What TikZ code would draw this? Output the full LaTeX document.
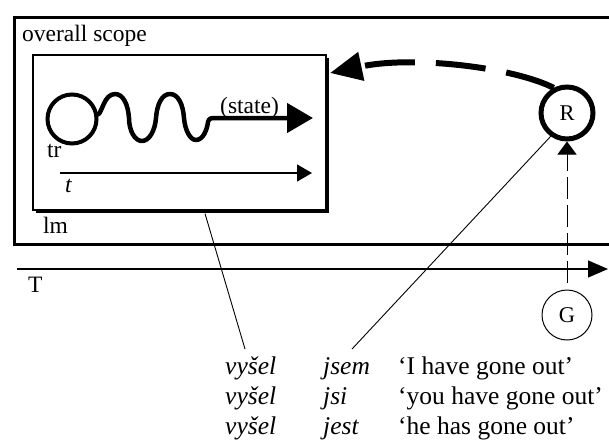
\documentclass[tikz,border=0pt]{standalone}
\usepackage{fontspec}
\setmainfont{Liberation Serif}
\usetikzlibrary{arrows.meta,shadows,calc}
\begin{document}
\begin{tikzpicture}[x=1pt,y=-1pt,
  lbl/.style={anchor=base west, inner sep=0pt, font=\fontsize{23.5}{28}\selectfont},
  ex/.style={anchor=base west, inner sep=0pt, font=\fontsize{25.5}{30}\selectfont},
  exit/.style={anchor=base west, inner sep=0pt, font=\fontsize{25.5}{30}\selectfont\itshape},
  thinline/.style={line width=0.9pt},
  bigcirc/.style={circle, draw, inner sep=0pt, font=\fontsize{22.5}{26}\selectfont},
  wave/.style={line width=4.5pt, line join=round, line cap=round},
]
\useasboundingbox (0,0) rectangle (609,441);
\fill[white] (0,0) rectangle (609,441);

% overall scope box
\node[draw, line width=3pt, minimum width=607pt, minimum height=227pt, inner sep=0pt,
      anchor=north west] (scope) at (13,16) {};
\node[lbl] (scopelbl) at (22,42) {overall scope};

% lm box
\node[draw, line width=1.2pt, fill=white, minimum width=293pt, minimum height=155pt,
      inner sep=0pt, general shadow={fill=black, shadow xshift=3pt, shadow yshift=-3pt}]
      (lm) at (179.5,132.5) {};
\node[lbl] (lmlbl) at (43,233) {lm};

% trajectory
\node[circle, draw, line width=4pt, minimum size=49pt, inner sep=0pt] (trc) at (72,119) {};
\coordinate (stateend) at (313,118);
\draw[wave, -{Triangle[length=26pt,width=29pt]}] (trc.10)
  .. controls (102,113) and (104,94) .. (115,94)
  .. controls (123,94) and (128,104) .. (129,118)
  .. controls (129,131) and (135,141) .. (142,141)
  .. controls (149,141) and (155,131) .. (156,118)
  .. controls (157,104) and (162,94) .. (170,94)
  .. controls (178,94) and (183,104) .. (184,118)
  .. controls (185,130) and (190,140) .. (196,140)
  .. controls (203,140) and (207,130) .. (208,122)
  .. controls (209,118) and (211,118) .. (216,118)
  -- (stateend);
\node[lbl] (statelbl) at (220,113) {(state)};
\node[lbl] (trlbl) at (47,157) {tr};

% t axis
\coordinate (tstart) at (60,173);
\coordinate (tend) at (312,173);
\draw[line width=1.3pt, -{Triangle[length=15pt,width=17pt]}] (tstart) -- (tend);
\node[lbl, font=\fontsize{23.5}{28}\selectfont\itshape] (tlbl) at (65,192) {t};

% T axis
\coordinate (Tstart) at (17,269);
\coordinate (Tend) at (608,269);
\draw[line width=1.3pt, -{Triangle[length=20pt,width=17pt]}] (Tstart) -- (Tend);
\node[lbl] (Tlbl) at (28,292) {T};

% R and G
\node[bigcirc, line width=5pt, minimum size=52pt, outer sep=2.5pt] (R) at (567,113) {R};
\node[bigcirc, line width=1pt, minimum size=50pt] (G) at (567,315) {G};
\draw[line width=1pt, dash pattern=on 22pt off 6pt, -{Triangle[length=13pt,width=19pt]}]
  ([yshift=7pt]G.north) -- (R.south);

% big dashed arc
\coordinate (arcend) at (330,73);
\draw[line width=6pt, dash pattern=on 50pt off 21pt, -{Triangle[length=32pt,width=28pt]}]
  (R.118) .. controls (515,68) and (415,55) .. (arcend);

% pointer lines
\coordinate (lmend) at (245,349);
\coordinate (rend) at (352,349);
\draw[thinline] ([xshift=25.5pt,yshift=-3pt]lm.south) -- (lmend);
\draw[thinline] (R.235) -- (rend);

% examples
\node[exit] (v1) at (225,374) {vyšel};
\node[exit] (v2) at (225,404) {vyšel};
\node[exit] (v3) at (225,434) {vyšel};
\node[exit] (a1) at (323,374) {jsem};
\node[exit] (a2) at (323,404) {jsi};
\node[exit] (a3) at (323,434) {jest};
\node[ex] (g1) at (398,374) {‘I have gone out’};
\node[ex] (g2) at (398,404) {‘you have gone out’};
\node[ex] (g3) at (398,434) {‘he has gone out’};
\end{tikzpicture}
\end{document}
